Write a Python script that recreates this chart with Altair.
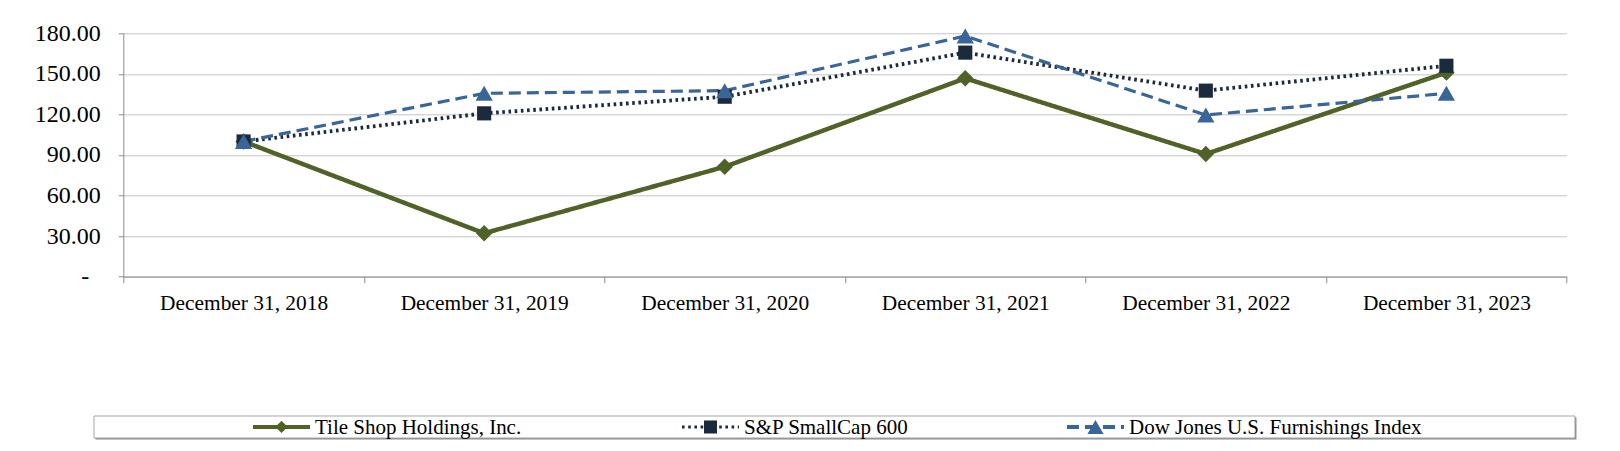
import altair as alt
import pandas as pd

categories = ["December 31, 2018", "December 31, 2019", "December 31, 2020",
              "December 31, 2021", "December 31, 2022", "December 31, 2023"]
series_names = ["Tile Shop Holdings, Inc.", "S&P SmallCap 600",
                "Dow Jones U.S. Furnishings Index"]
tile_shop = [100.0, 32.1, 81.3, 146.7, 90.7, 150.9]
sp_smallcap = [100.0, 120.8, 133.1, 165.7, 137.6, 156.0]
dow_jones = [100.0, 135.6, 137.6, 178.0, 119.6, 135.6]
y_ticks = [0, 30, 60, 90, 120, 150, 180]

colors = ["#4F6228", "#1C2A3E", "#3A6598"]
dashes = [[1, 0], [2.6, 3.6], [12, 6]]
widths = [4.5, 3.2, 4.5]
marker_shapes = ["diamond", "square", "triangle-up"]
marker_sizes = [270, 200, 300]
legend_marker_sizes = [150, 170, 260]

rows = []
for name, vals in zip(series_names, [tile_shop, sp_smallcap, dow_jones]):
    for c, v in zip(categories, vals):
        rows.append({"date": c, "series": name, "value": v})
df = pd.DataFrame(rows)
legend_df = pd.DataFrame({"series": series_names})

FONT = "Liberation Serif"
AXIS_GRAY = "#8C8C8C"

x_enc = alt.X(
    "date:N",
    scale=alt.Scale(type="band", domain=categories, paddingInner=0, paddingOuter=0),
    bandPosition=0.5,
    axis=alt.Axis(title=None, labelAngle=0, tickBand="extent", tickSize=6,
                  labelPadding=10, grid=False, domainColor=AXIS_GRAY,
                  tickColor=AXIS_GRAY, labelLimit=300, labelFontSize=21.4),
)
y_enc = alt.Y(
    "value:Q",
    scale=alt.Scale(domain=[0, 180], nice=False, zero=True),
    axis=alt.Axis(values=y_ticks, title=None,
                  labelExpr="datum.value == 0 ? '-' : format(datum.value, '.2f')",
                  labelPadding={"condition": {"test": "datum.value == 0", "value": 29.5},
                                "value": 18},
                  grid=True, gridColor="#C4C4C4", tickSize=5,
                  domainColor=AXIS_GRAY, tickColor=AXIS_GRAY, labelFontSize=24),
)

color_enc = alt.Color("series:N", scale=alt.Scale(domain=series_names, range=colors), legend=None)

lines = alt.Chart(df).mark_line().encode(
    x=x_enc, y=y_enc, color=color_enc,
    strokeDash=alt.StrokeDash("series:N", scale=alt.Scale(domain=series_names, range=dashes), legend=None),
    strokeWidth=alt.StrokeWidth("series:O", scale=alt.Scale(domain=series_names, range=widths), legend=None),
)

points = []
for i, name in enumerate(series_names):
    points.append(
        alt.Chart(df).transform_filter(alt.datum.series == name)
        .mark_point(filled=True, opacity=1, shape=marker_shapes[i], size=marker_sizes[i])
        .encode(x=x_enc, y=y_enc, color=color_enc)
    )

# ---- legend (drawn as a framed key below the plot) ----
frame_data = alt.Data(values=[{"k": 0}])
shadow = alt.Chart(frame_data).mark_rect(fill="#8A8A8A").encode(
    x=alt.value(-27.8), x2=alt.value(1453.2), y=alt.value(384.2), y2=alt.value(406.2))
box = alt.Chart(frame_data).mark_rect(fill="white", stroke="#A6A6A6", strokeWidth=1).encode(
    x=alt.value(-29.3), x2=alt.value(1451.7), y=alt.value(382.7), y2=alt.value(404.7))

LEG_Y = 393.7
LEG_X0 = [129.7, 558.7, 943.7]
SYM_W = 57
legend_layers = []
for i, name in enumerate(series_names):
    base = alt.Chart(legend_df).transform_filter(alt.datum.series == name)
    x0 = LEG_X0[i]
    legend_layers.append(
        base.mark_rule(color=colors[i], strokeWidth=min(widths[i], 4), strokeDash=dashes[i]).encode(
            x=alt.value(x0), x2=alt.value(x0 + SYM_W), y=alt.value(LEG_Y))
    )
    legend_layers.append(
        base.mark_point(filled=True, opacity=1, color=colors[i], shape=marker_shapes[i],
                        size=legend_marker_sizes[i]).encode(
            x=alt.value(x0 + SYM_W / 2), y=alt.value(LEG_Y))
    )
    legend_layers.append(
        base.mark_text(align="left", baseline="middle", font=FONT, fontSize=21,
                       color="black").encode(
            x=alt.value(x0 + SYM_W + 5), y=alt.value(LEG_Y + 1), text="series:N")
    )

chart = alt.layer(shadow, box, lines, *points, *legend_layers).properties(
    width=1443.4, height=243.4,
    autosize=alt.AutoSizeParams(type="none"),
    padding={"left": 115.3, "top": 25.3, "right": 40, "bottom": 166},
    background="white",
).configure_view(strokeWidth=0).configure_axis(
    labelFont=FONT, labelFontSize=21, labelColor="black"
)

chart.save("out.html", embed_options={"renderer": "svg", "actions": False})
